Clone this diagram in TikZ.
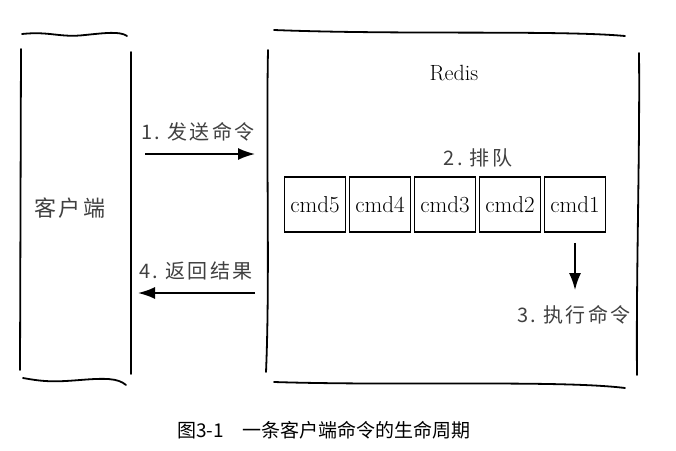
\documentclass[tikz,border=0pt]{standalone}
\usepackage{fontspec}
\newfontfamily\cjk{Noto Sans CJK SC}
\newfontfamily\cjkwide{Noto Sans CJK SC}[LetterSpace=12]
\usetikzlibrary{arrows.meta}
\tikzset{
  frame/.style={line width=1.8pt, line cap=round},
  cmdbox/.style={draw, line width=1.7pt, minimum width=61pt, minimum height=55pt,
    inner sep=0pt, font=\fontsize{23}{23}\selectfont},
  lbl/.style={text=black!75, font=\fontsize{20}{20}\selectfont\cjkwide},
  flow/.style={line width=1.8pt, -{Latex[length=17pt,width=12pt]}}
}
\begin{document}
\begin{tikzpicture}[x=1pt, y=-1pt]
  \useasboundingbox (0,0) rectangle (676,450);
  % client frame
  \draw[frame] (22,34) .. controls (50,31) and (60,38) .. (85,35) .. controls (105,33) and (120,31) .. (127,36);
  \draw[frame] (21,49) -- (20,370);
  \draw[frame] (131,52) -- (131,374);
  \draw[frame] (23,378) .. controls (45,382) and (55,382) .. (80,380) .. controls (105,378) and (118,378) .. (126,385);
  % redis frame
  \draw[frame] (274,30) .. controls (400,35) and (560,30) .. (625,36);
  \draw[frame] (268,50) .. controls (266,150) and (270,280) .. (266,372);
  \draw[frame] (639,53) .. controls (640,150) and (636,280) .. (637,375);
  \draw[frame] (274,382) .. controls (400,386) and (560,380) .. (625,388);
  % texts
  \draw
    (70,208) node[lbl, font=\fontsize{22}{22}\selectfont\cjkwide] (client){客户端}
    (454,73) node[font=\fontsize{22}{22}\selectfont] (redis){Redis}
    (478,158) node[lbl] (queue){2.\ 排队}
    (574,315) node[lbl] (exec){3.\ 执行命令}
    (198,132) node[lbl] (send){1.\ 发送命令}
    (196,271) node[lbl] (reply){4.\ 返回结果}
    (324,430) node[font=\fontsize{19}{19}\selectfont\cjk] (caption){图3-1\quad 一条客户端命令的生命周期};
  % queue
  \node[cmdbox] (c5) at (315,204.5) {cmd5};
  \node[cmdbox] (c4) at (380,204.5) {cmd4};
  \node[cmdbox] (c3) at (445,204.5) {cmd3};
  \node[cmdbox] (c2) at (510,204.5) {cmd2};
  \node[cmdbox] (c1) at (575,204.5) {cmd1};
  % arrows
  \coordinate (cl1) at (131,154);
  \coordinate (rs1) at (267,154);
  \coordinate (cl4) at (131,293);
  \coordinate (rs4) at (267,293);
  \draw[flow, shorten <=14pt, shorten >=12pt] (cl1) -- (rs1);
  \draw[flow, shorten <=12pt, shorten >=7pt] (rs4) -- (cl4);
  \draw[flow, shorten <=10pt, shorten >=12pt] (c1.south) -- (c1.south |- exec.north);
\end{tikzpicture}
\end{document}
